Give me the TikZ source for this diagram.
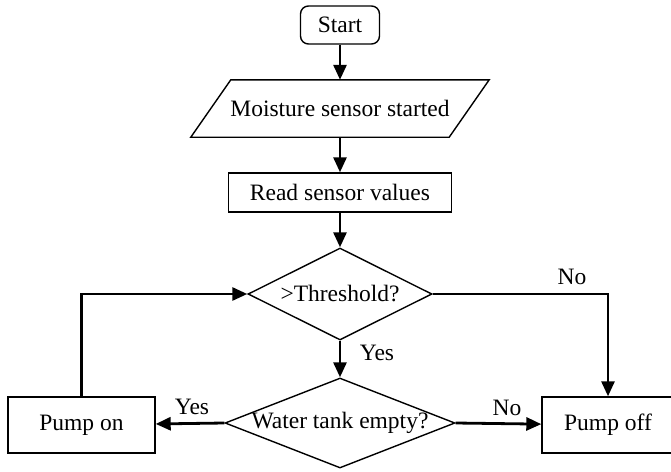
\documentclass[tikz,border=0pt]{standalone}
\usepackage{fontspec}
\setmainfont{Liberation Serif}
\usetikzlibrary{arrows.meta,shapes.geometric}
\begin{document}
\begin{tikzpicture}[x=1pt,y=-1pt,
  every node/.style={font=\fontsize{23.5}{27}\selectfont, inner sep=0pt},
  box/.style={draw, line width=1.4pt, rectangle},
  dia/.style={draw, line width=1.4pt, shape=diamond},
  conn/.style={line width=2.8pt, -{Triangle[length=15pt,width=13pt]}},
  lbl/.style={}
]
\useasboundingbox (0,0) rectangle (671,471);
\clip (0,0) rectangle (671,471);

\node[box, rounded corners=8pt, minimum width=79pt, minimum height=38pt] (start) at (340,25) {Start};
\node[minimum width=258pt, minimum height=57pt] (par) at (340,108.5) {Moisture sensor started};
\draw[line width=1.4pt] ([xshift=-20pt]par.south west) -- ([xshift=20pt]par.north west)
  -- ([xshift=20pt]par.north east) -- ([xshift=-20pt]par.south east) -- cycle;
\node[box, minimum width=223pt, minimum height=39pt] (read) at (340,192.5) {Read sensor values};
\node[dia, minimum width=184pt, minimum height=92pt, label={[lbl]center:{>Threshold?}}] (thr) at (340,294) {};
\node[dia, minimum width=230pt, minimum height=90pt, label={[lbl]center:{Water tank empty?}}] (wt) at (340,423) {};
\node[box, minimum width=147pt, minimum height=56pt] (on) at (81.5,425) {Pump on};
\node[box, minimum width=132pt, minimum height=56pt] (off) at (608,425) {Pump off};

\coordinate (cR) at (608,294);
\coordinate (cL) at (81.5,294);

\draw[conn] (start) -- (par.north);
\draw[conn] (par.south) -- (read);
\draw[conn] (read) -- (thr);
\draw[conn] (thr) -- (wt);
\draw[conn] (thr.east) -- (cR) -- (off);
\draw[conn] (wt.west) -- (on);
\draw[conn] (wt.east) -- (off);
\draw[conn] (on) -- (cL) -- (thr.west);

\node (ly1) at (377,353) {Yes};
\node (ln1) at (572,277) {No};
\node (ly2) at (192,407) {Yes};
\node (ln2) at (507,408) {No};
\end{tikzpicture}
\end{document}
